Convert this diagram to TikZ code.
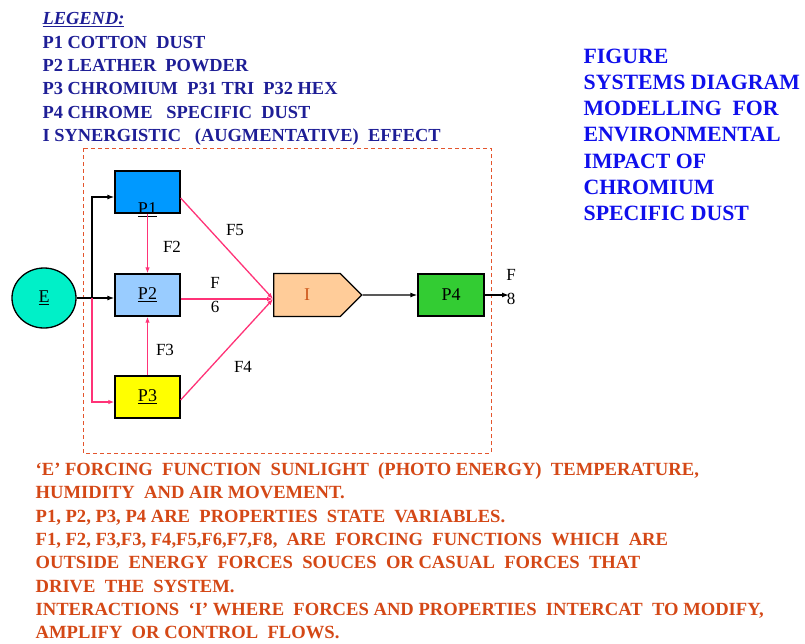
\documentclass[tikz,border=0pt]{standalone}
\usepackage{fontspec}
\setmainfont{Liberation Serif}
\usetikzlibrary{arrows.meta, shapes.geometric, shapes.symbols}

\definecolor{fpink}{RGB}{255,51,119}
\definecolor{boxred}{RGB}{228,85,45}
\definecolor{ecyan}{RGB}{0,240,200}
\definecolor{p1blue}{RGB}{0,153,255}
\definecolor{p2blue}{RGB}{153,204,255}
\definecolor{p3yellow}{RGB}{255,255,0}
\definecolor{ipeach}{RGB}{255,204,153}
\definecolor{iorange}{RGB}{205,85,25}
\definecolor{p4green}{RGB}{51,204,51}
\definecolor{legblue}{RGB}{30,30,150}
\definecolor{titleblue}{RGB}{15,15,235}
\definecolor{notered}{RGB}{212,72,22}

\begin{document}
\begin{tikzpicture}[x=1pt, y=-1pt, line width=1.3pt,
  pbox/.style={draw=black, minimum width=65pt, minimum height=42pt, inner sep=0pt,
    font=\fontsize{18}{20}\selectfont},
  flabel/.style={font=\fontsize{17}{24.5}\selectfont, align=center, inner sep=0pt},
  pinkarrow/.style={draw=fpink, -{Latex[length=6pt,width=4.5pt]}},
  blkarrow/.style={draw=black, -{Latex[length=7pt,width=5pt]}}]
  \useasboundingbox (0,0) rectangle (805,643);

  % legend and title
  \node[anchor=north west, align=left, text=legblue, inner sep=0pt,
    font=\bfseries\fontsize{18.4}{23.3}\selectfont] (legend) at (42,12)
    {\textit{\underline{LEGEND:}}\\
     P1 COTTON\ \ DUST\\
     P2 LEATHER\ \ POWDER\\
     P3 CHROMIUM\ \ P31 TRI\ \ P32 HEX\\
     P4 CHROME\ \ \ SPECIFIC\ \ DUST\\
     I SYNERGISTIC\ \ \ (AUGMENTATIVE)\ \ EFFECT};
  \node[anchor=north west, align=left, text=titleblue, inner sep=0pt,
    font=\bfseries\fontsize{21.8}{26.3}\selectfont] (title) at (583,48)
    {FIGURE\\
     SYSTEMS DIAGRAM\\
     MODELLING\ \ FOR\\
     ENVIRONMENTAL\\
     IMPACT OF\\
     CHROMIUM\\
     SPECIFIC DUST};

  % system boundary
  \draw[boxred, line width=1pt, dash pattern=on 4pt off 3pt] (83,148) rectangle (491,453);

  % compartments
  \node[ellipse, draw=black, fill=ecyan, minimum width=64pt, minimum height=60pt,
    font=\fontsize{18}{20}\selectfont] (e) at (44,298) {\underline{E}};
  \node[pbox, fill=p1blue] (p1) at (147.5,192) {};
  \node[font=\fontsize{18}{20}\selectfont, inner sep=0pt] (p1txt) at ([yshift=4pt]p1.south) {\underline{P1}};
  \node[pbox, fill=p2blue] (p2) at (147.5,295) {\underline{P2}};
  \node[pbox, fill=p3yellow] (p3) at (147.5,397) {\underline{P3}};
  \node[signal, signal to=east, draw=black, fill=ipeach, text=iorange,
    minimum width=88pt, minimum height=43pt, inner sep=0pt,
    font=\fontsize{18}{20}\selectfont] (i) at (307,295) {I};
  \node[pbox, fill=p4green, minimum width=66pt] (p4) at (451,295) {P4};
  \coordinate (j) at (92,298);
  \coordinate (out) at (509,295);

  % flows
  \draw[blkarrow] (e.east) -- (p2.west |- e.east);
  \draw[blkarrow] (j) |- ([yshift=-5pt]p1.west);
  \draw[pinkarrow] (j) |- ([yshift=-5pt]p3.west);
  \draw[pinkarrow] (p1) -- (p2);
  \draw[pinkarrow] (p3) -- (p2);
  \draw[pinkarrow] ([yshift=-6pt]p1.east) -- ([yshift=-4pt]i.west);
  \draw[pinkarrow] (p2.east |- 0,299) -- ([yshift=-4pt]i.west);
  \draw[pinkarrow] ([yshift=-3pt]p3.east) -- ([yshift=-4pt]i.west);
  \draw[blkarrow] (i) -- (p4);
  \draw[blkarrow] (p4) -- (out);

  % forcing labels
  \node[flabel] (f5) at (235,230) {F5};
  \node[flabel] (f2) at (172,247) {F2};
  \node[flabel] (f6) at (215,295) {F\\6};
  \node[flabel] (f3) at (165,350) {F3};
  \node[flabel] (f4) at (243,367) {F4};
  \node[flabel] (f8) at (511,287) {F\\8};

  % notes
  \node[anchor=north west, align=left, text=notered, inner sep=0pt,
    font=\bfseries\fontsize{18.6}{23.3}\selectfont] (notes) at (35,462)
    {‘E’ FORCING\ \ FUNCTION\ \ SUNLIGHT\ \ (PHOTO ENERGY)\ \ TEMPERATURE,\\
     HUMIDITY\ \ AND AIR MOVEMENT.\\
     P1, P2, P3, P4 ARE\ \ PROPERTIES\ \ STATE\ \ VARIABLES.\\
     F1, F2, F3,F3, F4,F5,F6,F7,F8,\ \ ARE\ \ FORCING\ \ FUNCTIONS\ \ WHICH\ \ ARE\\
     OUTSIDE\ \ ENERGY\ \ FORCES\ \ SOUCES\ \ OR CASUAL\ \ FORCES\ \ THAT\\
     DRIVE\ \ THE\ \ SYSTEM.\\
     INTERACTIONS\ \ ‘I’ WHERE\ \ FORCES AND PROPERTIES\ \ INTERCAT\ \ TO MODIFY,\\
     AMPLIFY\ \ OR CONTROL\ \ FLOWS.};
\end{tikzpicture}
\end{document}
